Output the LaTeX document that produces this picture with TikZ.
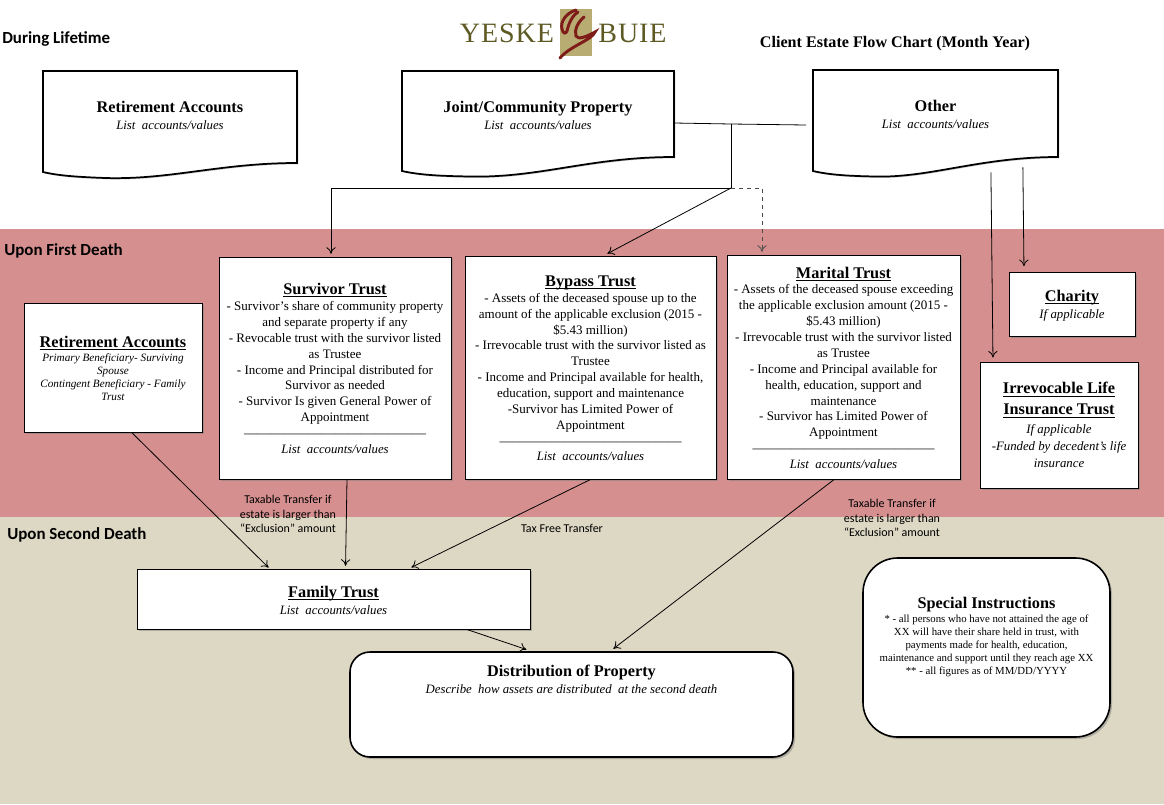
\documentclass[tikz,border=0pt]{standalone}
\usepackage{fontspec}
\setmainfont{Liberation Serif}
\newfontfamily\labelfont{Carlito}
\newfontfamily\logofont[LetterSpace=3.4]{Liberation Serif}
\usetikzlibrary{positioning,shadows,arrows.meta}
\definecolor{firstband}{HTML}{D68F8F}
\definecolor{secondband}{HTML}{DDD8C4}
\definecolor{logotan}{HTML}{B8AC72}
\definecolor{logotext}{HTML}{5E5A24}
\definecolor{logored}{HTML}{7E1C1A}
\newcommand{\boxtitle}[1]{{\upshape\fontsize{12.2}{15}\selectfont\bfseries #1}}
\newcommand{\titleline}[1]{\underline{\raisebox{0pt}[\height][0pt]{#1}}}
\newcommand{\listvalues}{{\itshape\fontsize{9.6}{12}\selectfont List\ \ accounts/values}}
\tikzset{
  >={To[length=5pt,width=7pt]},
  flow/.style={->,black,line width=0.6pt},
  flow plain/.style={black,line width=0.6pt},
  flow guide/.style={->,dashed,black!70,line width=0.6pt},
  blank/.style 2 args={inner sep=0pt,minimum width=#1*0.75pt,minimum height=#2*0.75pt},
  plain box/.style={draw=black,fill=white,line width=0.7pt,drop shadow={shadow xshift=1.5pt,shadow yshift=-1.5pt,opacity=0.5}},
  round box/.style={plain box,line width=1.2pt},
  wave box/.style={draw=black,fill=white,line width=1.3pt,line join=miter,drop shadow={shadow xshift=1pt,shadow yshift=-1pt,opacity=0.4}},
  body/.style={align=center,inner sep=0pt,font=\fontsize{9.75}{11.9}\selectfont},
  section/.style={inner sep=0pt,anchor=west,font=\labelfont\bfseries\fontsize{12.7}{14}\selectfont},
  transfer/.style={align=center,inner sep=0pt,font=\labelfont\fontsize{9}{10.8}\selectfont}
}
\begin{document}
\begin{tikzpicture}[x=0.75pt,y=-0.75pt]
\useasboundingbox (0,0) rectangle (1164,804);

%bands
\fill[firstband]  (0,229) rectangle (1164,517);
\fill[secondband] (0,517) rectangle (1164,804);

%logo
\fill[logotan] (560,9) rectangle (592,56);
\draw[logored,line width=2.2pt,line cap=round] (576,10) .. controls (566,13) and (560,22) .. (562,29) .. controls (563,34) and (566,34) .. (567,31) .. controls (569,22) and (573,15) .. (578,12);
\draw[logored,line width=2.2pt,line cap=round] (584,17) .. controls (578,22) and (574,30) .. (576,36) .. controls (578,40) and (586,37) .. (595,32) .. controls (592,40) and (570,46) .. (560,58);
\node[inner sep=0pt,text=logotext,font=\logofont\fontsize{21}{21}\selectfont] (yeske) at (507,33) {YESKE};
\node[inner sep=0pt,text=logotext,font=\logofont\fontsize{21}{21}\selectfont] (buie) at (632.5,33) {BUIE};

\node[inner sep=0pt,font=\bfseries\fontsize{12.1}{14}\selectfont] (chart) at (895,44) {Client Estate Flow Chart (Month Year)};
\node[section] (lifetime) at (2,39) {During Lifetime};
\node[section] (first) at (4,251) {Upon First Death};
\node[section] (second) at (7,535) {Upon Second Death};

%first row
\draw[wave box] (43,71) -- (297,71) -- (297,163) .. controls (220,163) and (170,180) .. (105,178) .. controls (80,177) and (60,176) .. (43,172) -- cycle;
\draw[wave box] (402,71) -- (674,71) -- (674,157) .. controls (590,157) and (540,178) .. (470,176.5) .. controls (440,176) and (420,175) .. (402,171) -- cycle;
\draw[wave box] (813,70) -- (1058,70) -- (1058,157) .. controls (980,157) and (930,178) .. (875,176.5) .. controls (850,176) and (830,175) .. (813,171) -- cycle;
\node[blank={254}{104}] (retire) at (170,123) {};
\node[blank={272}{104}] (joint) at (538,123) {};
\node[blank={245}{106}] (other) at (935.5,123) {};
\node[body,below=22.5pt of retire.north] (retiretext) {\boxtitle{Retirement Accounts}\\[1pt]\listvalues};
\node[body,below=22.5pt of joint.north] (jointtext) {\boxtitle{Joint/Community Property}\\[1pt]\listvalues};
\node[body,below=22.5pt of other.north] (othertext) {\boxtitle{Other}\\[1pt]\listvalues};

%second row
\node[plain box,blank={178}{129}] (account) at (113,367.5) {};
\node[plain box,blank={232}{222}] (survivor) at (335,368) {};
\node[plain box,blank={251}{223}] (bypass) at (590.5,367.5) {};
\node[plain box,blank={233}{224}] (marital) at (843.5,367) {};
\node[plain box,blank={126}{64}] (charity) at (1072,304) {};
\node[plain box,blank={158}{126}] (ilit) at (1059,425) {};

\node[body,below=25pt of account.north,font=\itshape\fontsize{8.4}{9.7}\selectfont] (accounttext) {\boxtitle{\titleline{Retirement Accounts}}\\[1pt]Primary Beneficiary- Surviving\\Spouse\\Contingent Beneficiary - Family\\Trust};
\node[body,below=20pt of survivor.north] (survivortext) {\boxtitle{\titleline{Survivor Trust}}\\- Survivor's share of community property\\and separate property if any\\- Revocable trust with the survivor listed\\as Trustee\\- Income and Principal distributed for\\Survivor as needed\\- Survivor Is given General Power of\\Appointment\\------------------------------------------\\\listvalues};
\node[body,below=15pt of bypass.north] (bypasstext) {\boxtitle{\titleline{Bypass Trust}}\\- Assets of the deceased spouse up to the\\amount of the applicable exclusion (2015 -\\\$5.43 million)\\- Irrevocable trust with the survivor listed as\\Trustee\\- Income and Principal available for health,\\education, support and maintenance\\-Survivor has Limited Power of\\Appointment\\------------------------------------------\\\listvalues};
\node[body,below=9pt of marital.north] (maritaltext) {\boxtitle{\titleline{Marital Trust}}\\- Assets of the deceased spouse exceeding\\the applicable exclusion amount (2015 -\\\$5.43 million)\\- Irrevocable trust with the survivor listed\\as Trustee\\- Income and Principal available for\\health, education, support and\\maintenance\\- Survivor has Limited Power of\\Appointment\\------------------------------------------\\\listvalues};
\node[body,below=14pt of charity.north] (charitytext) {\boxtitle{\titleline{Charity}}\\[1pt]{\itshape\fontsize{9.6}{12}\selectfont If applicable}};
\node[body,below=15.5pt of ilit.north,font=\itshape\fontsize{9.6}{12.8}\selectfont] (ilittext) {\boxtitle{\titleline{Irrevocable Life}}\\[3pt]\boxtitle{\titleline{Insurance Trust}}\\[1pt]If applicable\\-Funded by decedent's life\\insurance};

%third row
\node[plain box,blank={393}{60}] (family) at (333.5,599) {};
\node[round box,blank={443}{105},rounded corners=15pt] (distribution) at (571.5,704.5) {};
\node[round box,blank={247}{179},rounded corners=26pt] (special) at (986.5,647.5) {};
\node[body,below=13pt of family.north] (familytext) {\boxtitle{\titleline{Family Trust}}\\[1pt]\listvalues};
\node[body,below=10pt of distribution.north] (distributiontext) {\boxtitle{Distribution of Property}\\[1pt]{\itshape\fontsize{9.6}{12}\selectfont Describe\ \ how assets are distributed\ \ at the second death}};
\node[body,below=29.5pt of special.north,font=\fontsize{8.1}{9.8}\selectfont] (specialtext) {\boxtitle{Special Instructions}\\[1pt]* - all persons who have not attained the age of\\XX will have their share held in trust, with\\payments made for health, education,\\maintenance and support until they reach age XX\\** - all figures as of MM/DD/YYYY};

\node[transfer] (taxableone) at (288,514) {Taxable Transfer if\\estate is larger than\\“Exclusion” amount};
\node[transfer] (taxfree) at (562,528) {Tax Free Transfer};
\node[transfer] (taxabletwo) at (892,518) {Taxable Transfer if\\estate is larger than\\“Exclusion” amount};

%connectors
\coordinate (J) at (731,124);
\coordinate (K) at (731,188);
\coordinate (L) at (331,188);
\coordinate (M) at (762,188);
\coordinate (E) at (806,125);
\draw[flow plain] (joint.east) -- (J) -- (E);
\draw[flow plain] (J) -- (K);
\draw[flow,shorten >=2pt] (K) -- (L) -- (L |- survivor.north);
\draw[flow,shorten >=3pt] (K) -- ([xshift=10pt]bypass.north);
\draw[flow guide,shorten >=2pt] (K) -- (M) -- (M |- marital.north);
\draw[flow,shorten <=-3pt,shorten >=3pt] ([xshift=41.6pt]other.south) -- ([xshift=-49.5pt]ilit.north);
\draw[flow,shorten <=-6.75pt,shorten >=4pt] ([xshift=65.6pt]other.south) -- ([xshift=-36pt]charity.north);
\draw[flow,shorten >=1pt] ([xshift=14pt]account.south) -- ([xshift=-48pt]family.north);
\draw[flow,shorten >=2pt] ([xshift=9pt]survivor.south) -- ([xshift=9pt]family.north);
\draw[flow,shorten >=2pt] (bypass.south) -- ([xshift=56.6pt]family.north);
\draw[flow,shorten >=3pt] ([xshift=-7pt]marital.south) -- ([xshift=29pt]distribution.north);
\draw[flow,shorten >=4pt] ([xshift=100pt]family.south) -- ([xshift=-30pt]distribution.north);
\end{tikzpicture}
\end{document}
